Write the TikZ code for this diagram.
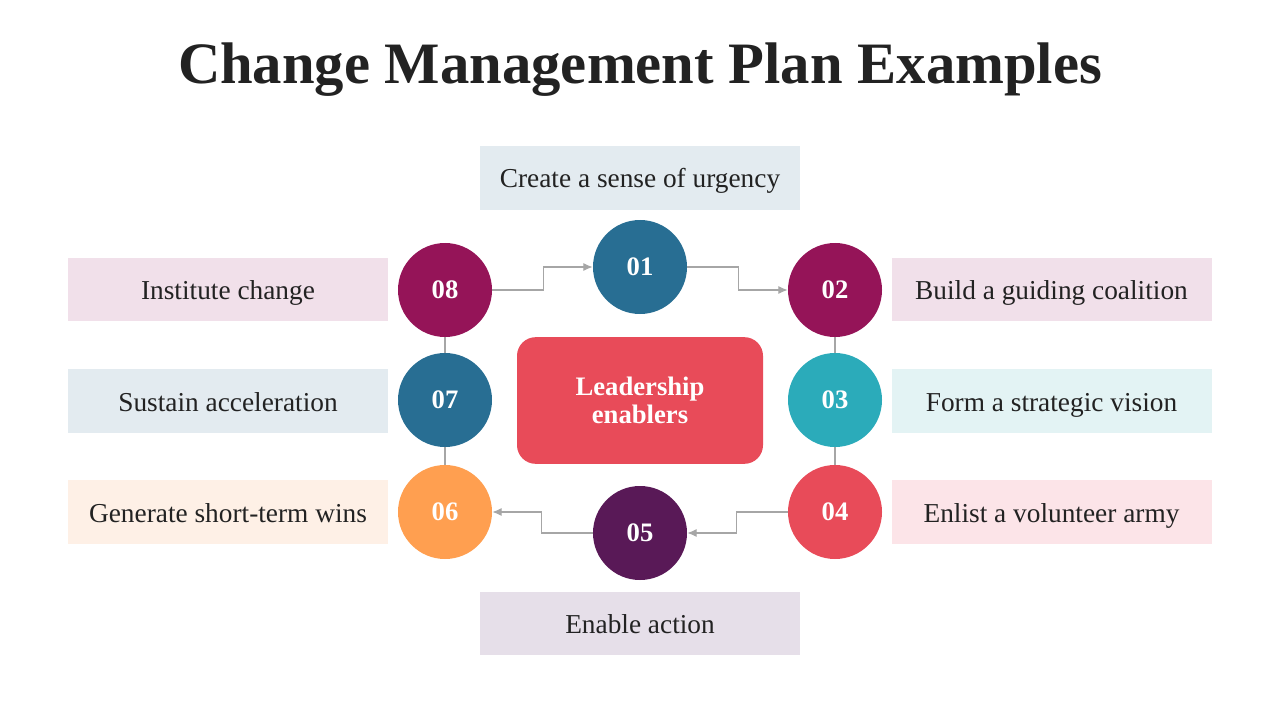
\documentclass[tikz,border=0pt]{standalone}
\usepackage{fontspec}
\setmainfont{Liberation Serif}
\usepackage{tikz}
\usetikzlibrary{positioning, arrows.meta}
\usepackage{xcolor}

\definecolor{stepblue}{HTML}{286E93}
\definecolor{stepmagenta}{HTML}{951458}
\definecolor{stepteal}{HTML}{2BABBA}
\definecolor{stepred}{HTML}{E84B59}
\definecolor{stepplum}{HTML}{591957}
\definecolor{steporange}{HTML}{FF9F50}
\definecolor{boxblue}{HTML}{E3EBF0}
\definecolor{boxpink}{HTML}{F1E0EA}
\definecolor{boxteal}{HTML}{E3F3F4}
\definecolor{boxrose}{HTML}{FCE4E8}
\definecolor{boxpeach}{HTML}{FEF0E6}
\definecolor{boxlilac}{HTML}{E6DFE9}
\definecolor{titlegray}{HTML}{222222}
\definecolor{linkgray}{HTML}{A6A6A6}

\begin{document}
\begin{tikzpicture}[x=0.75pt, y=-0.75pt, >={Latex[length=7pt, width=6pt]},
    num/.style={circle, minimum size=70.5pt, inner sep=0pt, text=white, font=\fontsize{20}{22}\selectfont\bfseries},
    label/.style={minimum width=240pt, minimum height=47.5pt, inner sep=0pt, text=titlegray,
                  text height=18pt, text depth=3pt, font=\fontsize{20.5}{22}\selectfont},
    link/.style={draw=linkgray, line width=0.8pt}]

    \useasboundingbox (0,0) rectangle (1280,720);

    % Title
    \node[text=titlegray, font=\fontsize{44}{48}\selectfont\bfseries] at (640,70) (title) {Change Management Plan Examples};

    % Center box
    \node[fill=stepred, rounded corners=14pt, minimum width=184.5pt, minimum height=95pt, align=center,
          text=white, font=\fontsize{20}{21}\selectfont\bfseries] at (640,400.5) (lead) {Leadership\\enablers};

    % Step circles
    \node[num, fill=stepblue] at (640,267) (c1) {01};
    \node[num, fill=stepmagenta] at (835,290) (c2) {02};
    \node[num, fill=stepteal] at (835,400) (c3) {03};
    \node[num, fill=stepred] at (835,512) (c4) {04};
    \node[num, fill=stepplum] at (640,533) (c5) {05};
    \node[num, fill=steporange] at (445,512) (c6) {06};
    \node[num, fill=stepblue] at (445,400) (c7) {07};
    \node[num, fill=stepmagenta] at (445,290) (c8) {08};

    % Labels
    \node[label, fill=boxblue] at (640,178) (l1) {Create a sense of urgency};
    \node[label, fill=boxpink] at (1051.5,289.5) (l2) {Build a guiding coalition};
    \node[label, fill=boxteal] at (1051.5,401) (l3) {Form a strategic vision};
    \node[label, fill=boxrose] at (1051.5,512) (l4) {Enlist a volunteer army};
    \node[label, fill=boxlilac] at (640,623.5) (l5) {Enable action};
    \node[label, fill=boxpeach] at (228,512) (l6) {Generate short-term wins};
    \node[label, fill=boxblue] at (228,401) (l7) {Sustain acceleration};
    \node[label, fill=boxpink] at (228,289.5) (l8) {Institute change};

    % Connectors
    \draw[link, ->] (c8.east) -- ++(51,0) |- (c1.west);
    \draw[link, ->] (c1.east) -- ++(51,0) |- (c2.west);
    \draw[link] (c2) -- (c3);
    \draw[link] (c3) -- (c4);
    \draw[link, ->] (c4.west) -- ++(-51,0) |- (c5.east);
    \draw[link, ->] (c5.west) -- ++(-51,0) |- (c6.east);
    \draw[link] (c7) -- (c6);
    \draw[link] (c8) -- (c7);

\end{tikzpicture}
\end{document}
